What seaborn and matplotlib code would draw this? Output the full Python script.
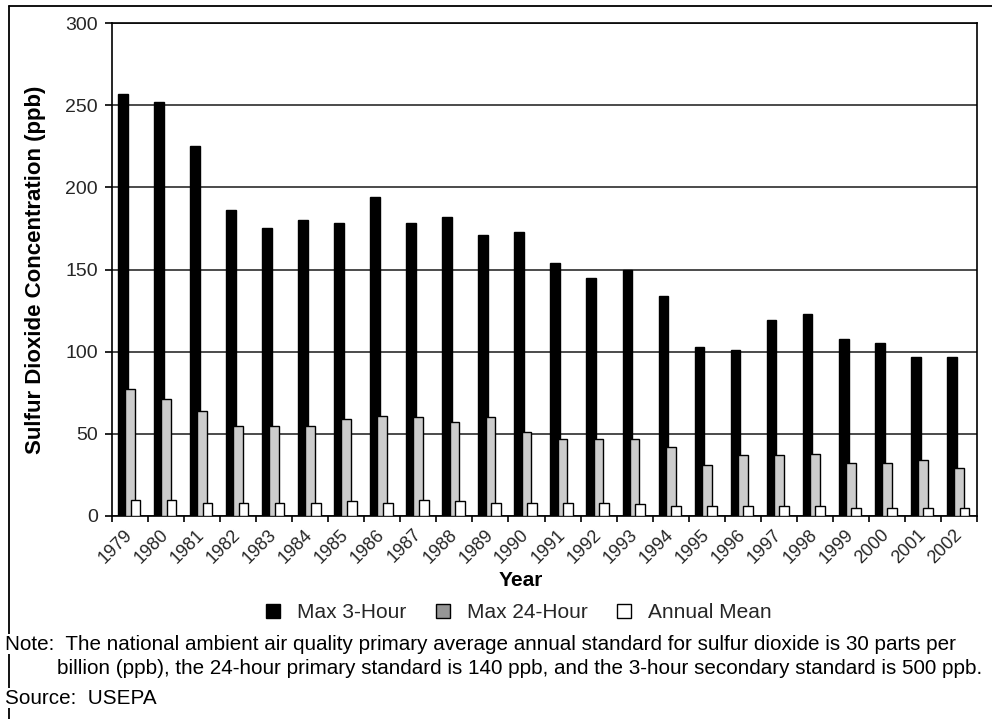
import numpy as np
import pandas as pd
import matplotlib
matplotlib.use("Agg")
import matplotlib.pyplot as plt
from matplotlib.patches import Patch
from matplotlib.lines import Line2D
import seaborn as sns

# Sulfur dioxide concentrations, ppb
years = list(range(1979, 2003))
max_3hr = [257, 252, 225, 186, 175, 180, 178, 194, 178, 182, 171, 173,
           154, 145, 150, 134, 103, 101, 119, 123, 108, 105, 97, 97]
max_24hr = [77, 71, 64, 55, 55, 55, 59, 61, 60, 57, 60, 51,
            47, 47, 47, 42, 31, 37, 37, 38, 32, 32, 34, 29]
annual_mean = [10, 10, 8, 8, 8, 8, 9, 8, 10, 9, 8, 8,
               8, 8, 7, 6, 6, 6, 6, 6, 5, 5, 5, 5]
series_names = ["Max 3-Hour", "Max 24-Hour", "Annual Mean"]
y_ticks = [0, 50, 100, 150, 200, 250, 300]

note_line1 = ("Note:  The national ambient air quality primary average annual "
              "standard for sulfur dioxide is 30 parts per")
note_line2 = ("billion (ppb), the 24-hour primary standard is 140 ppb, and the "
              "3-hour secondary standard is 500 ppb.")
source_text = "Source:  USEPA"

sns.set_theme(style="white")
plt.rcParams["font.family"] = ["Liberation Sans", "DejaVu Sans"]

W, H = 992, 719
fig = plt.figure(figsize=(W / 100, H / 100), dpi=100)
ax = fig.add_axes([112 / W, 1 - 516 / H, (977 - 112) / W, (516 - 23) / H])

df = pd.DataFrame({"year": years, "m3": max_3hr, "m24": max_24hr, "am": annual_mean})

# overlapping bars within each year, drawn back to front
bar_specs = [("m3", -0.20, "#000000"),
             ("m24", 0.0, "#cccccc"),
             ("am", 0.15, "#ffffff")]
for col, shift, colour in bar_specs:
    sns.barplot(x=df["year"] + shift, y=df[col], native_scale=True, width=0.27,
                color=colour, saturation=1, edgecolor="black", linewidth=1.0,
                errorbar=None, ax=ax, zorder=3)

ax.set_xlim(1978.5, 2002.5)
ax.set_ylim(0, 300)
ax.set_yticks(y_ticks)
ax.yaxis.grid(True, color="#1a1a1a", linewidth=1.1, zorder=0)
ax.xaxis.grid(False)
ax.set_axisbelow(True)
for s in ax.spines.values():
    s.set_visible(True)
    s.set_color("black")
    s.set_linewidth(1.2)

ax.set_xticks(years)
ax.set_xticklabels([str(y) for y in years], rotation=45, ha="right",
                   va="center", rotation_mode="anchor", fontsize=13)
ax.set_xticks([y - 0.5 for y in years] + [2002.5], minor=True)
ax.tick_params(axis="x", which="major", length=0, pad=11.5)
ax.tick_params(axis="x", which="minor", length=4, width=1.2, color="black",
               direction="out", bottom=True)
ax.tick_params(axis="y", length=5, width=1.2, color="black", direction="out",
               left=True, pad=5, labelsize=14)

ax.set_ylabel("Sulfur Dioxide Concentration (ppb)", fontsize=16,
              fontweight="bold", color="black", va="center")
ax.yaxis.set_label_coords((35.5 - 112) / 865, 0.5)
ax.set_xlabel("Year", fontsize=15, fontweight="bold", color="black", va="center")
ax.xaxis.set_label_coords((521 - 112) / 865, (516 - 581) / 493)

handles = [Patch(facecolor="#000000", edgecolor="black", linewidth=1.0),
           Patch(facecolor="#969696", edgecolor="black", linewidth=1.0),
           Patch(facecolor="#ffffff", edgecolor="black", linewidth=1.0)]
fig.legend(handles, series_names, loc="center", ncol=3, frameon=False,
           bbox_to_anchor=(519 / W, 1 - 613 / H), fontsize=15,
           handlelength=0.67, handleheight=0.67, handletextpad=0.82,
           columnspacing=1.42)

# figure frame (top and left edges)
fig.add_artist(Line2D([9 / W, 1.01], [1 - 6 / H, 1 - 6 / H], color="black",
                      linewidth=1.3, transform=fig.transFigure))
fig.add_artist(Line2D([9 / W, 9 / W], [1 - 6 / H, -0.01], color="black",
                      linewidth=1.3, transform=fig.transFigure))

txt_kw = dict(fontsize=14.9, color="black", va="center", ha="left",
              bbox=dict(facecolor="white", edgecolor="none", pad=0.5))
fig.text(5 / W, 1 - 644 / H, note_line1, **txt_kw)
fig.text(57 / W, 1 - 668 / H, note_line2, **txt_kw)
fig.text(5 / W, 1 - 698 / H, source_text, **txt_kw)

fig.savefig("out.png", dpi=100, facecolor="white")
